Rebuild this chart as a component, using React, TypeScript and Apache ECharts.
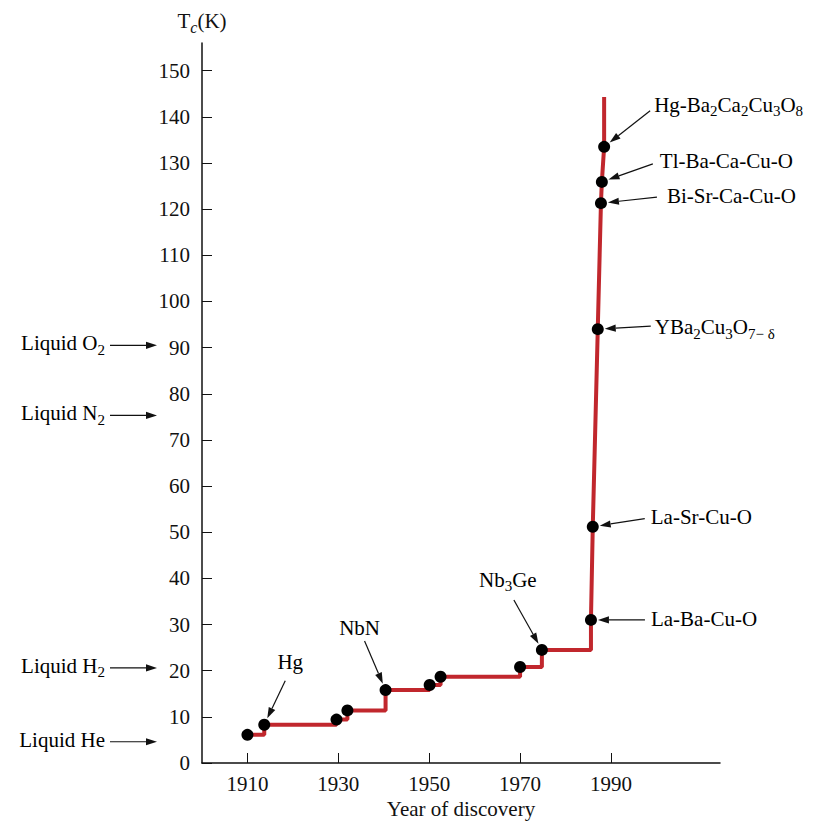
import React, { useEffect, useRef } from "react";
import * as echarts from "echarts";

// Critical temperature record (Tc in K) by year of discovery
const stepYears = [1910.0, 1913.7, 1929.6, 1932.0, 1940.4, 1950.1, 1952.5, 1970.0, 1974.8, 1985.6];
const stepTc = [6.1, 8.3, 9.4, 11.4, 15.8, 16.9, 18.7, 20.8, 24.5, 31.0];
const riseYears = [1985.6, 1986.0, 1987.1, 1987.8, 1988.0, 1988.5, 1988.5];
const riseTc = [31.0, 51.2, 94.0, 121.3, 125.9, 133.5, 144.3];
// the last rise point is the open end of the curve, drawn without a dot
const dotYears = [...stepYears, ...riseYears.slice(1, 6)];
const dotTc = [...stepTc, ...riseTc.slice(1, 6)];

const xTicks = [1910, 1930, 1950, 1970, 1990];
const yTicks = [0, 10, 20, 30, 40, 50, 60, 70, 80, 90, 100, 110, 120, 130, 140, 150];

// Material annotations: index into dots, label text (rich), label offset, arrow tail offset
const materials = [
  { idx: 1, text: "{n|Hg}", align: "center", lx: 26, ly: -63, tx: 21, ty: -44 },
  { idx: 4, text: "{n|NbN}", align: "center", lx: -26, ly: -62, tx: -21, ty: -49 },
  { idx: 8, text: "{n|Nb}{s|3}{n|Ge}", align: "center", lx: -34, ly: -70, tx: -28, ty: -50 },
  { idx: 9, text: "{n|La-Ba-Cu-O}", align: "left", lx: 60, ly: -1, tx: 54, ty: 0 },
  { idx: 10, text: "{n|La-Sr-Cu-O}", align: "left", lx: 58, ly: -10, tx: 52, ty: -8 },
  { idx: 11, text: "{n|YBa}{s|2}{n|Cu}{s|3}{n|O}{s|7− δ}", align: "left", lx: 57, ly: -2, tx: 53, ty: -3 },
  { idx: 12, text: "{n|Bi-Sr-Ca-Cu-O}", align: "left", lx: 66, ly: -7, tx: 56, ty: -6 },
  { idx: 13, text: "{n|Tl-Ba-Ca-Cu-O}", align: "left", lx: 58, ly: -21, tx: 51, ty: -18 },
  { idx: 14, text: "{n|Hg-Ba}{s|2}{n|Ca}{s|2}{n|Cu}{s|3}{n|O}{s|8}", align: "left", lx: 50, ly: -42, tx: 46, ty: -36 },
];

// Boiling points of cryogenic liquids (K)
const liquidNames = ["{n|Liquid O}{s|2}", "{n|Liquid N}{s|2}", "{n|Liquid H}{s|2}", "{n|Liquid He}"];
const liquidTc = [90.5, 75.3, 20.6, 4.6];

const FONT = "'Liberation Serif', 'Times New Roman', serif";
const INK = "#111";
const RED = "#c1272d";

const rich = {
  n: { fontSize: 21, fontFamily: FONT, color: INK, lineHeight: 28 },
  s: { fontSize: 15, fontFamily: FONT, color: INK, lineHeight: 14, verticalAlign: "bottom" },
  i: { fontSize: 16, fontFamily: FONT, color: INK, lineHeight: 14, verticalAlign: "bottom", fontStyle: "italic" },
};

function arrow(x1: number, y1: number, x2: number, y2: number): any[] {
  const dx = x2 - x1;
  const dy = y2 - y1;
  const len = Math.hypot(dx, dy);
  const ux = dx / len;
  const uy = dy / len;
  const head = 11;
  const half = 3.6;
  const bx = x2 - ux * head;
  const by = y2 - uy * head;
  return [
    {
      type: "line",
      shape: { x1, y1, x2: bx, y2: by },
      style: { stroke: INK, lineWidth: 1.2 },
      silent: true,
    },
    {
      type: "polygon",
      shape: {
        points: [
          [x2, y2],
          [bx - uy * half, by + ux * half],
          [bx + uy * half, by - ux * half],
        ],
      },
      style: { fill: INK },
      silent: true,
    },
  ];
}

export default function App() {
  const ref = useRef<HTMLDivElement>(null);

  useEffect(() => {
    if (!ref.current) return;
    const chart = echarts.init(ref.current, null, { renderer: "svg" });
    chart.setOption({
      animation: false,
      backgroundColor: "#fff",
      grid: { left: 202, right: 93, top: 43, bottom: 58, containLabel: false, outerBoundsMode: "none" },
      xAxis: {
        type: "value",
        min: 1900,
        max: 2014,
        splitLine: { show: false },
        axisLine: { show: true, lineStyle: { color: INK, width: 1.5 } },
        axisTick: { show: true, inside: true, length: 10, customValues: xTicks, lineStyle: { color: INK } },
        axisLabel: {
          customValues: xTicks,
          formatter: (v: number) => String(v),
          margin: 10,
          fontSize: 21,
          fontFamily: FONT,
          color: INK,
        },
        name: "Year of discovery",
        nameLocation: "middle",
        nameGap: 34,
        nameTextStyle: { fontSize: 21, fontFamily: FONT, color: INK },
      },
      yAxis: {
        type: "value",
        min: 0,
        max: 156,
        splitLine: { show: false },
        axisLine: { show: true, lineStyle: { color: INK, width: 1.5 } },
        axisTick: { show: true, inside: true, length: 10, customValues: yTicks, lineStyle: { color: INK } },
        axisLabel: {
          customValues: yTicks,
          formatter: (v: number) => String(v),
          margin: 12,
          fontSize: 21,
          fontFamily: FONT,
          color: INK,
        },
        name: "{n|T}{i|c}{n|(K)}",
        nameLocation: "end",
        nameGap: 8,
        nameTextStyle: { rich },
      },
      series: [
        {
          type: "line",
          step: "end",
          data: stepYears.map((y, k) => [y, stepTc[k]]),
          symbol: "none",
          lineStyle: { color: RED, width: 4 },
          z: 2,
        },
        {
          type: "line",
          data: riseYears.map((y, k) => [y, riseTc[k]]),
          symbol: "none",
          lineStyle: { color: RED, width: 4 },
          z: 2,
        },
        {
          type: "scatter",
          data: dotYears.map((y, k) => [y, dotTc[k]]),
          symbolSize: 12,
          itemStyle: { color: "#000", opacity: 1 },
          z: 3,
        },
      ],
    });

    const px = (x: number, y: number) => chart.convertToPixel({ gridIndex: 0 }, [x, y]) as number[];
    const elems: any[] = [];

    materials.forEach((m) => {
      const [cx, cy] = px(dotYears[m.idx], dotTc[m.idx]);
      const tx = cx + m.tx;
      const ty = cy + m.ty;
      const d = Math.hypot(tx - cx, ty - cy);
      const gap = 7;
      const hx = cx + ((tx - cx) / d) * gap;
      const hy = cy + ((ty - cy) / d) * gap;
      elems.push(...arrow(tx, ty, hx, hy));
      elems.push({
        type: "text",
        x: cx + m.lx,
        y: cy + m.ly,
        silent: true,
        style: {
          text: m.text,
          rich,
          align: m.align,
          textAlign: m.align,
          verticalAlign: "middle",
          textVerticalAlign: "middle",
        },
      });
    });

    const [gridLeft] = px(1900, 0);
    liquidNames.forEach((name, k) => {
      const [, y] = px(1900, liquidTc[k]);
      elems.push(...arrow(gridLeft - 92, y, gridLeft - 45, y));
      elems.push({
        type: "text",
        x: gridLeft - 97,
        y: y - 2,
        silent: true,
        style: {
          text: name,
          rich,
          align: "right",
          textAlign: "right",
          verticalAlign: "middle",
          textVerticalAlign: "middle",
        },
      });
    });

    chart.setOption({ graphic: elems });

    return () => chart.dispose();
  }, []);

  return <div ref={ref} style={{ width: 813, height: 821, position: "absolute", left: 0, top: 0 }} />;
}
